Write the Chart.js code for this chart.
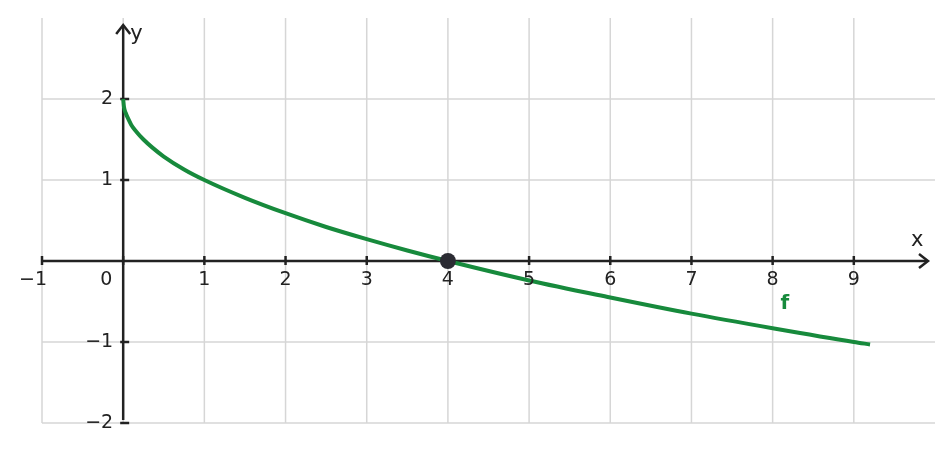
<!DOCTYPE html>
<html>
<head>
<meta charset="utf-8">
<script src="https://cdn.jsdelivr.net/npm/chart.js@4/dist/chart.umd.min.js"></script>
<style>
    html, body { margin: 0; padding: 0; background: #fff; }
    #wrap { width: 952px; height: 452px; }
</style>
</head>
<body>
<div id="wrap"><canvas id="myChart"></canvas></div>
<script>
// values
const curveX = [0, 0.01, 0.03, 0.06, 0.1, 0.16, 0.25, 0.36, 0.5, 0.75, 1, 1.5, 2, 2.5, 3, 3.5, 4, 5, 6, 7, 8, 9, 9.2];
const curveY = [2, 1.9, 1.83, 1.76, 1.68, 1.6, 1.5, 1.4, 1.29, 1.13, 1, 0.78, 0.59, 0.42, 0.27, 0.13, 0, -0.24, -0.45, -0.65, -0.83, -1, -1.03];
const rootX = [4];
const rootY = [0];
const xTicks = [-1, 0, 1, 2, 3, 4, 5, 6, 7, 8, 9];
const yTicks = [-2, -1, 1, 2];
const xRange = [-1, 10];
const yRange = [-2, 3];

const green = "#178a3c";
const ink = "#222222";
const font = "19px 'DejaVu Sans', sans-serif";

function label(v) {
    return v < 0 ? "\u2212" + Math.abs(v) : String(v);
}

const gridPlugin = {
    id: "grid",
    beforeDatasetsDraw(chart) {
        const ctx = chart.ctx;
        const xs = chart.scales.x, ys = chart.scales.y;
        const a = chart.chartArea;
        ctx.save();
        ctx.strokeStyle = "#d6d6d6";
        ctx.lineWidth = 1.5;
        for (const v of xTicks) {
            const px = xs.getPixelForValue(v);
            ctx.beginPath(); ctx.moveTo(px, a.top); ctx.lineTo(px, a.bottom); ctx.stroke();
        }
        for (const v of yTicks) {
            const py = ys.getPixelForValue(v);
            ctx.beginPath(); ctx.moveTo(a.left, py); ctx.lineTo(a.right, py); ctx.stroke();
        }

        // axes through the origin
        const ox = xs.getPixelForValue(0), oy = ys.getPixelForValue(0);
        ctx.strokeStyle = ink;
        ctx.lineWidth = 2.5;
        ctx.beginPath(); ctx.moveTo(a.left, oy); ctx.lineTo(a.right - 8, oy); ctx.stroke();
        ctx.beginPath(); ctx.moveTo(ox, a.bottom - 3); ctx.lineTo(ox, a.top + 7); ctx.stroke();
        // arrow heads
        ctx.beginPath();
        ctx.moveTo(a.right - 16, oy - 7); ctx.lineTo(a.right - 7, oy); ctx.lineTo(a.right - 16, oy + 7);
        ctx.stroke();
        ctx.beginPath();
        ctx.moveTo(ox - 7, a.top + 16); ctx.lineTo(ox, a.top + 7); ctx.lineTo(ox + 7, a.top + 16);
        ctx.stroke();
        // tick marks
        for (const v of xTicks) {
            const px = xs.getPixelForValue(v);
            ctx.beginPath(); ctx.moveTo(px, oy - 5); ctx.lineTo(px, oy + 4); ctx.stroke();
        }
        for (const v of yTicks) {
            const py = ys.getPixelForValue(v);
            ctx.beginPath(); ctx.moveTo(ox - 3, py); ctx.lineTo(ox + 6, py); ctx.stroke();
        }
        ctx.restore();
    },
    afterDatasetsDraw(chart) {
        const ctx = chart.ctx;
        const xs = chart.scales.x, ys = chart.scales.y;
        const a = chart.chartArea;
        const ox = xs.getPixelForValue(0), oy = ys.getPixelForValue(0);
        ctx.save();
        ctx.font = font;
        ctx.fillStyle = ink;
        ctx.textBaseline = "middle";
        ctx.textAlign = "center";
        for (const v of xTicks) {
            let px = xs.getPixelForValue(v);
            if (v === 0) px -= 17;
            if (v === -1) px -= 9;
            ctx.fillText(label(v), px, oy + 19);
        }
        ctx.textAlign = "right";
        for (const v of yTicks) {
            ctx.fillText(label(v), ox - 10, ys.getPixelForValue(v));
        }
        ctx.font = "21px 'DejaVu Sans', sans-serif";
        ctx.textAlign = "left";
        ctx.fillText("x", a.right - 24, oy - 20);
        ctx.fillText("y", ox + 7, a.top + 17);
        ctx.font = "bold 20px 'DejaVu Sans', sans-serif";
        ctx.fillStyle = green;
        ctx.textAlign = "center";
        ctx.fillText("f", xs.getPixelForValue(8.15), ys.getPixelForValue(-0.53));
        ctx.restore();
    }
};

new Chart("myChart", {
    type: "scatter",
    data: {
        datasets: [{
            data: rootX.map((x, i) => ({ x: x, y: rootY[i] })),
            pointRadius: 8,
            pointBackgroundColor: "#2b2b33",
            pointBorderColor: "#2b2b33",
            pointBorderWidth: 0,
            order: 0
        }, {
            data: curveX.map((x, i) => ({ x: x, y: curveY[i] })),
            showLine: true,
            borderColor: green,
            borderWidth: 4,
            pointRadius: 0,
            cubicInterpolationMode: "monotone",
            order: 1
        }]
    },
    options: {
        responsive: true,
        maintainAspectRatio: false,
        animation: false,
        layout: { padding: { left: 42, right: 17, top: 18, bottom: 29 } },
        scales: {
            x: { type: "linear", min: xRange[0], max: xRange[1], display: false },
            y: { type: "linear", min: yRange[0], max: yRange[1], display: false }
        },
        plugins: {
            legend: { display: false },
            tooltip: { enabled: false }
        }
    },
    plugins: [gridPlugin]
});
</script>
</body>
</html>
